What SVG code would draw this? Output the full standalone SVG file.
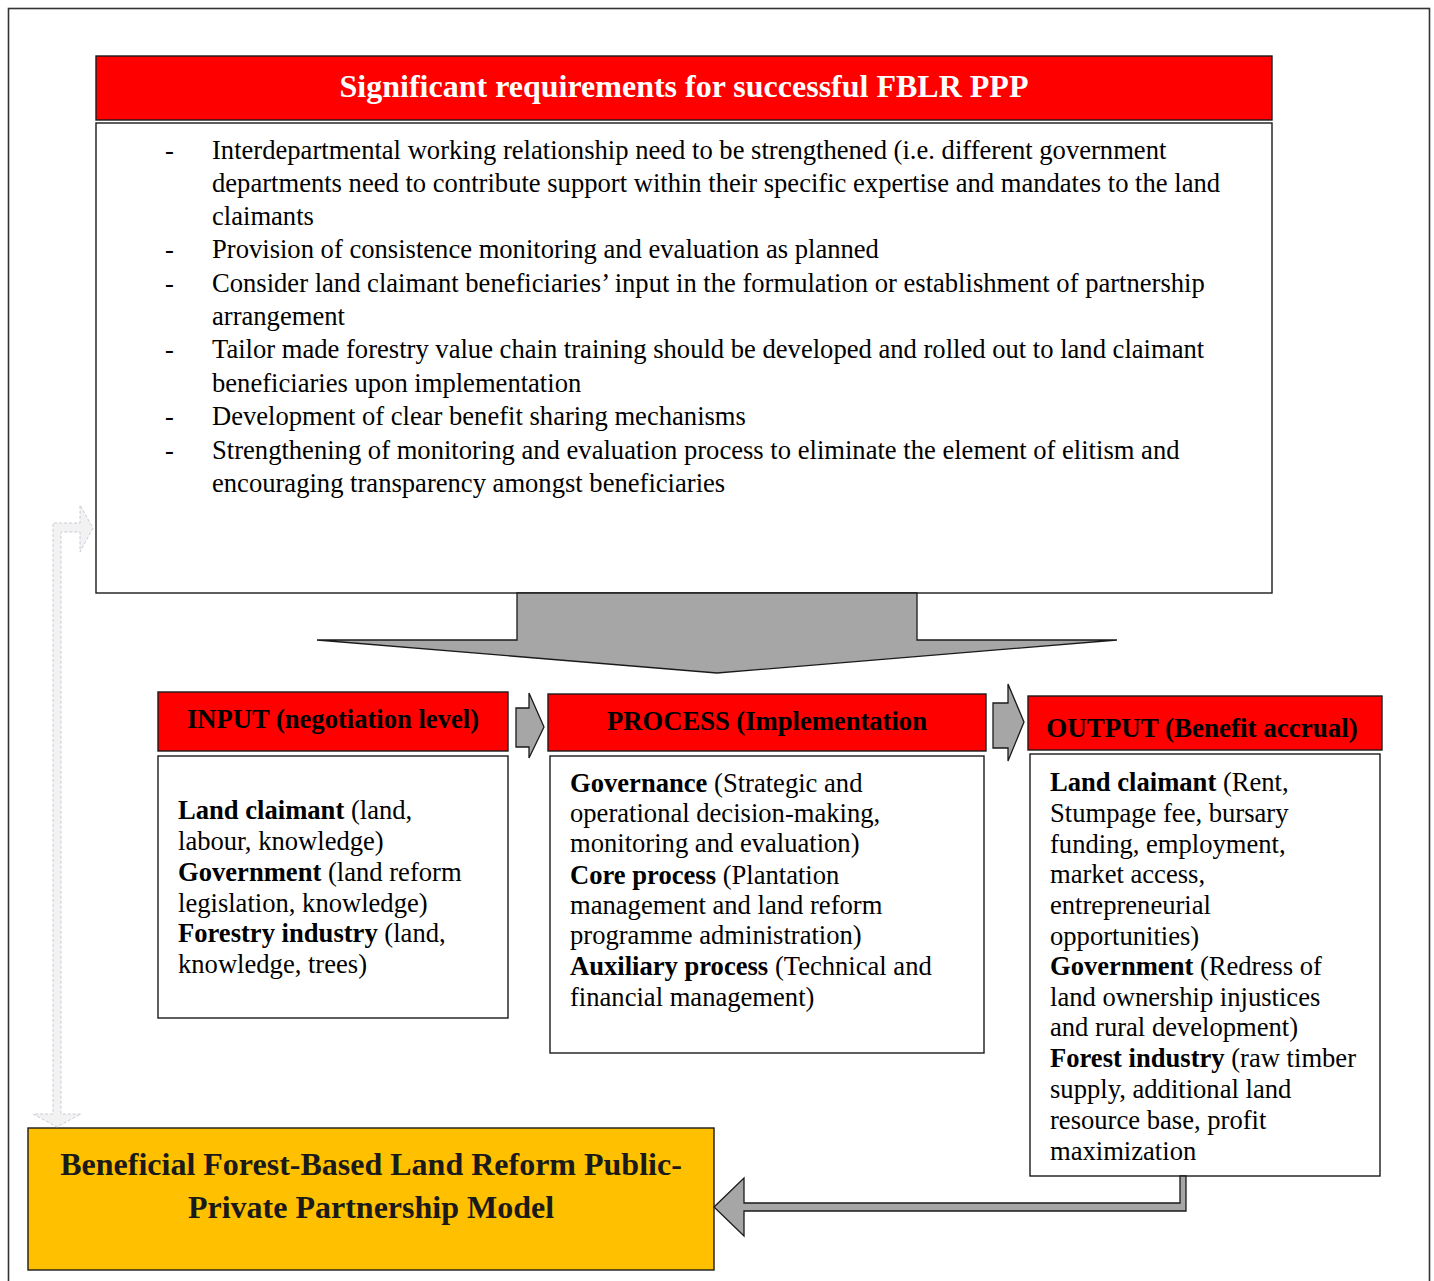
<svg xmlns="http://www.w3.org/2000/svg" width="1434" height="1281" viewBox="0 0 1434 1281">
  <style>
    .box { fill: #ffffff; stroke: #1a1a1a; stroke-width: 1.4; }
    .hdr { fill: #ff0000; stroke: #1a1a1a; stroke-width: 1.4; }
    .arrow { fill: #a6a6a6; stroke: #1a1a1a; stroke-width: 1.3; stroke-linejoin: miter; }
    .t { font-family: "Liberation Serif", "Times New Roman", serif; fill: #000; }
    .body { font-size: 26.6px; }
    .hd { font-size: 26.6px; font-weight: bold; }
    .b { font-weight: bold; }
  </style>

  <!-- page frame -->
  <rect x="8.5" y="8.5" width="1421" height="1290" fill="#ffffff" stroke="#333" stroke-width="1.6"/>

  <!-- requirements panel -->
  <g id="requirements">
    <rect class="hdr" x="96" y="56" width="1176" height="64"/>
    <text class="t" x="684" y="97" font-size="32" font-weight="bold" text-anchor="middle" style="fill:#ffffff">Significant requirements for successful FBLR PPP</text>
    <rect class="box" x="96" y="123" width="1176" height="470"/>
    <g class="t body">
      <text x="165" y="159">-</text>
      <text x="212" y="159">Interdepartmental working relationship need to be strengthened (i.e. different government</text>
      <text x="212" y="192">departments need to contribute support within their specific expertise and mandates to the land</text>
      <text x="212" y="225">claimants</text>
      <text x="165" y="258">-</text>
      <text x="212" y="258">Provision of consistence monitoring and evaluation as planned</text>
      <text x="165" y="292">-</text>
      <text x="212" y="292">Consider land claimant beneficiaries’ input in the formulation or establishment of partnership</text>
      <text x="212" y="325">arrangement</text>
      <text x="165" y="358">-</text>
      <text x="212" y="358">Tailor made forestry value chain training should be developed and rolled out to land claimant</text>
      <text x="212" y="392">beneficiaries upon implementation</text>
      <text x="165" y="425">-</text>
      <text x="212" y="425">Development of clear benefit sharing mechanisms</text>
      <text x="165" y="459">-</text>
      <text x="212" y="459">Strengthening of monitoring and evaluation process to eliminate the element of elitism and</text>
      <text x="212" y="492">encouraging transparency amongst beneficiaries</text>
    </g>
  </g>

  <!-- input stage -->
  <g id="input">
    <rect class="hdr" x="158" y="692" width="350" height="59"/>
    <text class="t hd" x="333" y="728" text-anchor="middle">INPUT (negotiation level)</text>
    <rect class="box" x="158" y="756" width="350" height="262"/>
    <g class="t body">
      <text x="178" y="819"><tspan class="b">Land claimant</tspan> (land,</text>
      <text x="178" y="850">labour, knowledge)</text>
      <text x="178" y="881"><tspan class="b">Government</tspan> (land reform</text>
      <text x="178" y="912">legislation, knowledge)</text>
      <text x="178" y="942"><tspan class="b">Forestry industry</tspan> (land,</text>
      <text x="178" y="973">knowledge, trees)</text>
    </g>
  </g>

  <!-- process stage -->
  <g id="process">
    <rect class="hdr" x="548" y="694" width="438" height="57"/>
    <text class="t hd" x="767" y="730" text-anchor="middle">PROCESS (Implementation</text>
    <rect class="box" x="550" y="756" width="434" height="297"/>
    <g class="t body">
      <text x="570" y="792"><tspan class="b">Governance</tspan> (Strategic and</text>
      <text x="570" y="822">operational decision-making,</text>
      <text x="570" y="852">monitoring and evaluation)</text>
      <text x="570" y="884"><tspan class="b">Core process</tspan> (Plantation</text>
      <text x="570" y="914">management and land reform</text>
      <text x="570" y="944">programme administration)</text>
      <text x="570" y="975"><tspan class="b">Auxiliary process</tspan> (Technical and</text>
      <text x="570" y="1006">financial management)</text>
    </g>
  </g>

  <!-- output stage -->
  <g id="output">
    <rect class="hdr" x="1028" y="696" width="354" height="54"/>
    <text class="t hd" x="1202" y="737" text-anchor="middle" style="font-size:27px">OUTPUT (Benefit accrual)</text>
    <rect class="box" x="1030" y="754" width="350" height="422"/>
    <g class="t body">
      <text x="1050" y="791"><tspan class="b">Land claimant</tspan> (Rent,</text>
      <text x="1050" y="822">Stumpage fee, bursary</text>
      <text x="1050" y="853">funding, employment,</text>
      <text x="1050" y="883">market access,</text>
      <text x="1050" y="914">entrepreneurial</text>
      <text x="1050" y="945">opportunities)</text>
      <text x="1050" y="975"><tspan class="b">Government</tspan> (Redress of</text>
      <text x="1050" y="1006">land ownership injustices</text>
      <text x="1050" y="1036">and rural development)</text>
      <text x="1050" y="1067"><tspan class="b">Forest industry</tspan> (raw timber</text>
      <text x="1050" y="1098">supply, additional land</text>
      <text x="1050" y="1129">resource base, profit</text>
      <text x="1050" y="1160">maximization</text>
    </g>
  </g>

  <!-- resulting model -->
  <g id="model">
    <rect x="28" y="1128" width="686" height="142" fill="#ffc000" stroke="#1a1a1a" stroke-width="1.4"/>
    <text class="t" x="371" y="1175" font-size="32" font-weight="bold" text-anchor="middle" style="fill:#1a1a1a">Beneficial Forest-Based Land Reform Public-</text>
    <text class="t" x="371" y="1218" font-size="32" font-weight="bold" text-anchor="middle" style="fill:#1a1a1a">Private Partnership Model</text>
  </g>

  <!-- connectors -->
  <g id="connectors">
    <!-- requirements feed into the three stages -->
    <polygon class="arrow" points="517,593 917,593 917,640 1117,640 717,673 317,640 517,640"/>
    <!-- input to process -->
    <polygon class="arrow" points="516,708 529,708 529,693 544,727 529,758 529,747 516,747"/>
    <!-- process to output -->
    <polygon class="arrow" points="993,703 1008,703 1008,684 1024,722 1008,761 1008,748 993,748"/>
    <!-- output back to the model -->
    <polygon class="arrow" points="714,1207 744,1178 744,1203 1180,1203 1180,1176 1186,1176 1186,1211 744,1211 744,1236"/>
    <!-- feedback loop between model and requirements -->
    <polygon points="93,528 80,552 80,532 61,532 61,1114 81,1114 57,1127 33,1114 53,1114 53,523 80,523 80,505" fill="#f2f2f2" stroke="#c8ccd6" stroke-width="1" stroke-dasharray="3,2"/>
  </g>
</svg>
